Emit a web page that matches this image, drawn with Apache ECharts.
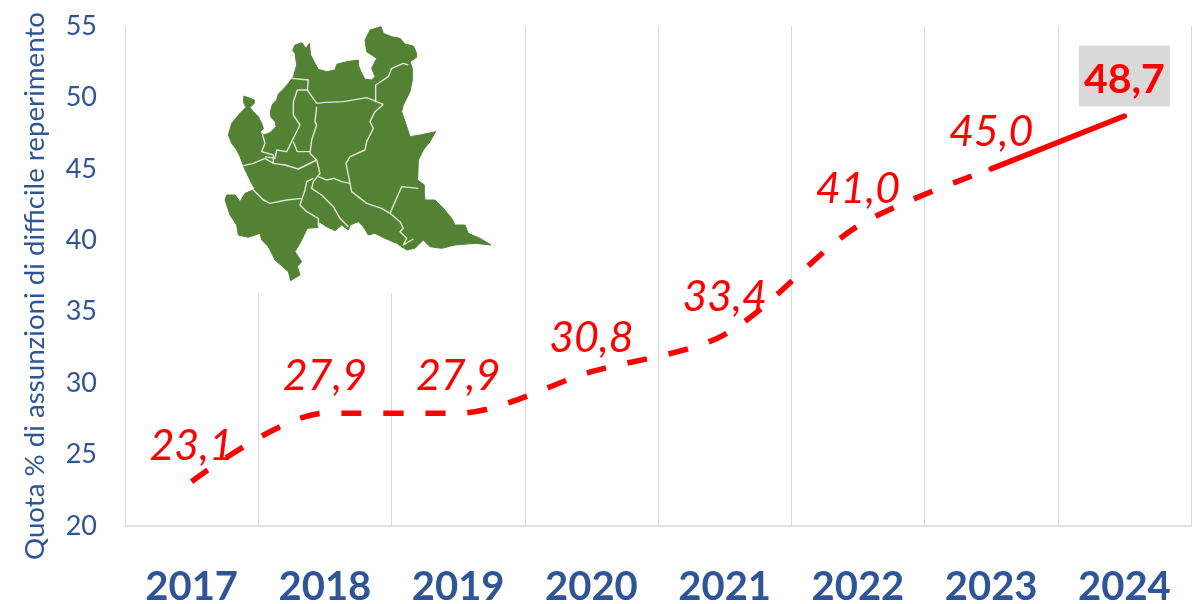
<!DOCTYPE html>
<html>
<head>
<meta charset="utf-8">
<style>html,body{margin:0;padding:0;background:#fff}#c{width:1200px;height:604px}</style>
<script src="https://cdn.jsdelivr.net/npm/echarts@6/dist/echarts.min.js"></script>
</head>
<body>
<div id="c"></div>
<script>
var categories = ['2017','2018','2019','2020','2021','2022','2023','2024'];
var shareValues = [23.1,27.9,27.9,30.8,33.4,41.0,45.0,48.7];
var valueLabels = ['23,1','27,9','27,9','30,8','33,4','41,0','45,0','48,7'];
var yAxisTitle = 'Quota % di assunzioni di difficile reperimento';
var labelLift = [14,15,15,12,15,15,15,9];

var outlineNorthWest = [[72,228],[82,232],[103,240],[103,250],[90,262],[100,275],[115,290],[125,310],[130,325],[122,335],[130,345],[150,338],[168,320],[165,305],[152,290],[152,270],[158,252],[170,240],[175,222],[190,208],[205,190],[220,170],[230,135],[225,100],[218,92],[225,75],[245,68],[258,85],[268,70],[272,105],[285,130],[295,148],[320,155],[335,152],[345,150],[350,133],[380,125],[415,120]];
var outlineNorthEast = [[10,135],[18,155],[30,178],[50,180],[60,170],[50,145],[65,115],[35,95],[30,60],[45,30],[78,20],[85,40],[110,50],[135,55],[150,72],[175,78],[185,100],[185,112],[165,125],[172,145],[172,180],[165,215],[145,255],[140,275],[152,310],[165,350],[195,345],[242,335],[225,365],[205,390]];
var outlineSouthEast = [[190,30],[188,90],[208,105],[208,130],[210,150],[240,150],[265,175],[290,205],[300,225],[330,225],[340,250],[375,265],[408,285],[360,280],[300,285],[260,295],[225,290],[205,270],[180,295],[155,300],[125,280],[90,265],[60,250],[40,255],[25,230],[10,215]];
var outlineSouthWest = [[390,225],[385,240],[365,225],[345,242],[320,230],[297,215],[295,232],[262,235],[240,280],[225,305],[245,335],[232,350],[240,375],[212,392],[205,365],[165,330],[145,290],[125,270],[120,250],[85,262],[55,255],[50,225],[30,195],[15,150],[20,135],[45,135],[60,155],[75,130],[105,118],[95,100],[75,60],[60,20],[50,0]];
var outlineWestClose = [[35,370],[25,345],[35,310],[60,280],[78,262],[70,245]];
var regionBorders = [
 [[245,190],[295,195],[292,225],[320,265],[345,262],[400,260],[470,248],[520,268]],
 [[520,268],[495,290],[480,320],[490,340],[470,380],[465,405],[420,425],[408,445],[425,530],[470,565],[515,580],[540,595]],
 [[497,262],[497,210],[535,185],[545,160],[580,145],[595,150]],
 [[292,225],[262,225],[250,260],[250,300],[270,330],[245,380],[230,410],[200,405],[195,430],[165,425]],
 [[320,275],[315,320],[320,330],[305,375],[300,415],[320,435],[330,475],[310,500],[305,520],[335,540],[370,575],[390,610],[415,635]],
 [[250,380],[262,410],[300,410]],
 [[155,350],[165,385],[155,410],[190,420],[190,445],[165,430],[130,445],[100,452]],
 [[190,445],[225,450],[265,462],[320,435]],
 [[325,485],[350,495],[372,490],[395,500],[420,505]],
 [[310,490],[290,500],[285,525],[270,570],[290,590],[325,610],[325,635]],
 [[130,525],[160,555],[180,565],[230,555],[275,550]],
 [[540,595],[575,515],[625,520]],
 [[540,595],[570,620],[580,640],[570,650],[590,670],[580,690],[610,672]]
];

function crop(pts, ox, oy){ return pts.map(function(p){ return [ox+p[0]/3, oy+p[1]/3]; }); }
var regionOutline = [].concat(
  crop(outlineNorthWest,220,20),
  crop(outlineNorthEast,355,20),
  crop(outlineSouthEast,355,150),
  crop(outlineSouthWest,220,150),
  crop(outlineWestClose,220,20)
);

var FONT = 'Lato, "Open Sans", sans-serif';
var BLUE = '#2f5597', RED = '#ff0000', GRIDC = '#d9d9d9';
var lastIdx = categories.length-1;

var dashedData = shareValues.map(function(v,i){
  if(i===lastIdx) return null;
  return {value:v, label:{show:true, formatter:valueLabels[i], distance:labelLift[i]}};
});
var solidData = shareValues.map(function(v,i){
  if(i<lastIdx-1) return null;
  if(i===lastIdx) return {value:v, label:{show:true, formatter:valueLabels[i], distance:labelLift[i],
    fontStyle:'normal', fontWeight:'bold', fontSize:41, backgroundColor:GRIDC, padding:[14,5,6,5]}};
  return v;
});

var graphics = [
  {type:'rect', z:1, silent:true, shape:{x:226,y:20,width:280,height:273}, style:{fill:'#fff'}},
  {type:'polygon', z:2, silent:true, shape:{points:regionOutline}, style:{fill:'#548235', stroke:'#548235', lineWidth:1, lineJoin:'round'}}
];
regionBorders.forEach(function(b){
  graphics.push({type:'polyline', z:3, silent:true, shape:{points:crop(b,210,15)}, style:{fill:null, stroke:'#dfe8d6', lineWidth:1.4, lineJoin:'round'}});
});

var hiddenPoint = {color:'rgba(255,0,0,0)', borderWidth:0};
var chart = echarts.init(document.getElementById('c'), null, {renderer:'canvas'});
chart.setOption({
  animation:false,
  backgroundColor:'#fff',
  grid:{left:125, right:9, top:26, bottom:78, outerBoundsMode:'none'},
  xAxis:{
    type:'category', data:categories, boundaryGap:true,
    axisLine:{show:true, lineStyle:{color:GRIDC, width:1.5}},
    axisTick:{show:false},
    splitLine:{show:true, lineStyle:{color:GRIDC, width:1}},
    axisLabel:{color:BLUE, fontFamily:FONT, fontWeight:'bold', fontSize:40, margin:41, interval:0}
  },
  yAxis:{
    type:'value', min:20, max:55, interval:5,
    name:yAxisTitle, nameLocation:'middle', nameRotate:90, nameGap:76,
    nameTextStyle:{color:BLUE, fontFamily:FONT, fontSize:27.7, padding:[0,20,0,0]},
    axisLine:{show:true, lineStyle:{color:GRIDC, width:1}},
    axisTick:{show:false},
    splitLine:{show:false},
    axisLabel:{color:BLUE, fontFamily:FONT, fontSize:27, margin:28}
  },
  graphic:graphics,
  series:[
    {type:'line', z:5, data:dashedData, smooth:0.3, showSymbol:true, showAllSymbol:true, symbol:'circle', symbolSize:1, itemStyle:hiddenPoint,
     lineStyle:{color:RED, width:5.5, type:[20,22], cap:'butt'},
     label:{position:'top', color:RED, fontFamily:FONT, fontStyle:'italic', fontSize:43}},
    {type:'line', z:6, data:solidData, smooth:0.3, showSymbol:true, showAllSymbol:true, symbol:'circle', symbolSize:1, itemStyle:hiddenPoint,
     lineStyle:{color:RED, width:5.5, cap:'round'},
     label:{position:'top', color:RED, fontFamily:FONT, fontSize:41}}
  ]
});
</script>
</body>
</html>
